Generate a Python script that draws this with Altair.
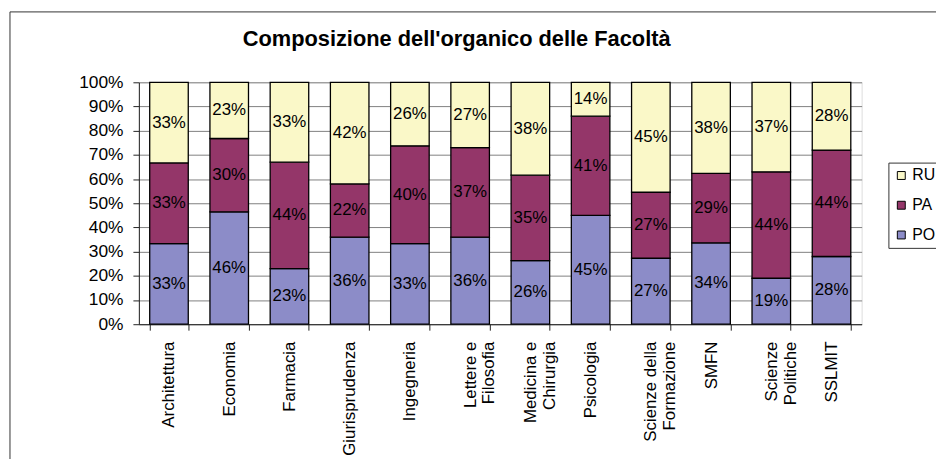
import altair as alt
import pandas as pd

categories = ["Architettura", "Economia", "Farmacia", "Giurisprudenza", "Ingegneria",
              "Lettere e\nFilosofia", "Medicina e\nChirurgia", "Psicologia",
              "Scienze della\nFormazione", "SMFN", "Scienze\nPolitiche", "SSLMIT"]
series = ["PO", "PA", "RU"]
po = [33, 46, 23, 36, 33, 36, 26, 45, 27, 34, 19, 28]
pa = [33, 30, 44, 22, 40, 37, 35, 41, 27, 29, 44, 44]
ru = [33, 23, 33, 42, 26, 27, 38, 14, 45, 38, 37, 28]
legend_order = ["RU", "PA", "PO"]
legend_colors = ["#FAF8C8", "#943669", "#8C8CC8"]
y_ticks = [0, 0.1, 0.2, 0.3, 0.4, 0.5, 0.6, 0.7, 0.8, 0.9, 1.0]
title_text = "Composizione dell'organico delle Facoltà"

rows = []
for i, c in enumerate(categories):
    for k, (s, vals) in enumerate(zip(series, [po, pa, ru])):
        rows.append({"cat": c, "series": s, "value": vals[i], "order": k})
df = pd.DataFrame(rows)

FONT = "Arial, 'Liberation Sans', sans-serif"

base = alt.Chart(df).transform_stack(
    stack="value", groupby=["cat"], as_=["y0", "y1"], offset="normalize",
    sort=[alt.SortField("order")]
).transform_calculate(
    mid="(datum.y0 + datum.y1) / 2", label="datum.value + '%'"
)

x_enc = alt.X(
    "cat:N", sort=categories, title=None,
    scale=alt.Scale(paddingInner=0.36, paddingOuter=0.18),
    axis=alt.Axis(labelAngle=270, labelExpr="split(datum.label, '\\n')",
                  tickBand="extent", tickSize=6, tickColor="#222", domainColor="#222",
                  labelFontSize=17, labelFont=FONT, labelColor="black",
                  labelPadding=11, labelLineHeight=19, grid=False, labelLimit=300),
)
y_axis = alt.Axis(values=y_ticks, format=".0%", tickSize=6, tickColor="#222",
                  domainColor="#222", gridColor="#808080", grid=True,
                  labelFontSize=17.5, labelFont=FONT, labelColor="black",
                  labelPadding=10, title=None)
y_scale = alt.Scale(domain=[0, 1], nice=False)

bars = base.mark_bar(stroke="black", strokeWidth=1.3).encode(
    x=x_enc,
    y=alt.Y("y0:Q", scale=y_scale, axis=y_axis),
    y2="y1:Q",
    color=alt.Color(
        "series:N",
        scale=alt.Scale(domain=legend_order, range=legend_colors),
        legend=alt.Legend(
            title=None, orient="none", legendX=756, legendY=81,
            padding=5, strokeColor="#333", symbolType="square", symbolSize=64,
            symbolStrokeColor="black", symbolStrokeWidth=1, labelFontSize=16,
            labelFont=FONT, labelColor="black", labelOffset=3, rowPadding=14,
            labelExpr="datum.label + '\u00a0\u00a0\u00a0\u00a0\u00a0\u00a0\u00a0\u00a0\u00a0\u00a0'",
        ),
    ),
)

text = base.mark_text(fontSize=17, font=FONT, color="black", baseline="middle").encode(
    x=x_enc,
    y=alt.Y("mid:Q", scale=y_scale, axis=y_axis),
    text="label:N",
)

frame = alt.Chart(pd.DataFrame({"f": [0]})).mark_rect(
    fillOpacity=0, stroke="#333", strokeWidth=1
).encode(
    x=alt.value(-130), x2=alt.value(960), y=alt.value(-71), y2=alt.value(520)
)

chart = alt.layer(frame, bars, text).properties(
    width=729, height=244,
    autosize="none",
    padding={"left": 132, "top": 73, "right": 75, "bottom": 134},
    title=alt.TitleParams(title_text, fontSize=22, fontWeight="bold", font=FONT,
                          color="black", anchor="middle", frame="group",
                          dx=-44, offset=0, dy=40, baseline="top"),
).configure_view(strokeWidth=0).configure(background="white")

chart.save("out.html", embed_options={"renderer": "svg", "actions": False})
